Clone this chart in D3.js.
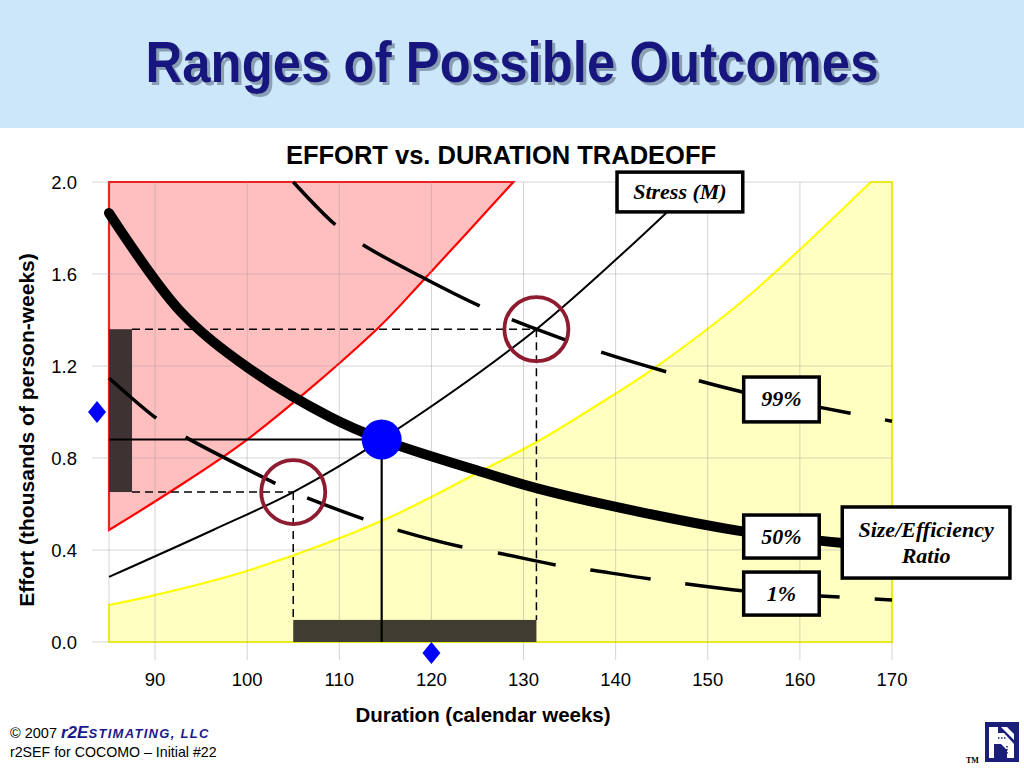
<!DOCTYPE html>
<html><head><meta charset="utf-8">
<script src="https://cdn.jsdelivr.net/npm/d3@7"></script>
<style>
html,body{margin:0;padding:0;background:#fff;}
svg{display:block;}
</style></head>
<body>
<script>
// ---------- data ----------
const xTicks = [90,100,110,120,130,140,150,160,170];
const yTicks = [0,0.4,0.8,1.2,1.6,2.0];
const yTickLabels = ["0.0","0.4","0.8","1.2","1.6","2.0"];
const medianCurve = [[85,1.865],[92.7,1.44],[100,1.195],[109,0.978],[114.6,0.88],[125.6,0.738],[131.8,0.665],[142.7,0.565],[154,0.48],[164.7,0.43]];
const stressCurve = [[85,0.283],[96.3,0.487],[105,0.652],[114.6,0.88],[131.4,1.36],[145.6,1.87]];
const upperCurve = [[105,2.0],[109.6,1.813],[112.6,1.726],[118.8,1.59],[125.3,1.46],[131.4,1.36],[138.6,1.258],[145.6,1.174],[154,1.085],[162.2,1.02],[170,0.96]];
const lowerCurve = [[85,1.148],[90.1,0.974],[93.3,0.891],[103,0.691],[105,0.652],[112.6,0.535],[116.3,0.487],[123.4,0.413],[127.2,0.387],[133.5,0.335],[137.3,0.313],[143.8,0.274],[154,0.222],[162.2,0.2],[170,0.183]];
const redBoundary = [[85,0.487],[91.6,0.652],[100.1,0.883],[114.1,1.361],[119.35,1.583],[128.9,2.0]];
const yellowBoundary = [[85,0.161],[90,0.204],[100.3,0.313],[114.8,0.53],[125.6,0.748],[131.8,0.878],[138.4,1.04],[143.8,1.18],[153.9,1.487],[167.7,2.0]];
const lowPoint = [105, 0.652];
const highPoint = [131.4, 1.36];
const likelyPoint = [114.6, 0.88];
const durationBar = [105, 131.4, 0, 0.096];   // x0,x1,y0,y1
const effortBar = [85, 87.5, 0.652, 1.36];
const diamonds = [[83.7, 1.0],[120, -0.048]];
const boxes = [
  {lines:["Stress (M)"], x0:140.15, x1:153.8, y0:1.87, y1:2.043},
  {lines:["99%"], x0:153.9, x1:162.1, y0:0.957, y1:1.152},
  {lines:["50%"], x0:153.9, x1:162.1, y0:0.365, y1:0.552},
  {lines:["1%"], x0:153.9, x1:162.1, y0:0.117, y1:0.304},
  {lines:["Size/Efficiency","Ratio"], x0:164.6, x1:182.8, y0:0.278, y1:0.587}
];

// ---------- drawing ----------
const W = 1024, H = 768;
const svg = d3.select("body").append("svg").attr("width", W).attr("height", H);
const sans = "'Liberation Sans', Arial, sans-serif";
const serif = "'Liberation Serif', 'Times New Roman', serif";

const defs = svg.append("defs");
const filt = defs.append("filter").attr("id","shadow").attr("x","-5%").attr("y","-20%").attr("width","110%").attr("height","150%");
filt.append("feDropShadow").attr("dx",3).attr("dy",3).attr("stdDeviation",0.6)
  .attr("flood-color","#7f93a8").attr("flood-opacity",0.85);

// header
svg.append("rect").attr("x",0).attr("y",0).attr("width",W).attr("height",128).attr("fill","#cce6fa");
svg.append("text").attr("x",512).attr("y",82).attr("text-anchor","middle")
  .attr("font-family",sans).attr("font-weight","bold").attr("font-size",57)
  .attr("textLength",733).attr("lengthAdjust","spacingAndGlyphs")
  .attr("fill","#14147e").attr("filter","url(#shadow)").text("Ranges of Possible Outcomes");

const x = d3.scaleLinear().domain([85,170]).range([109,892]);
const y = d3.scaleLinear().domain([0,2]).range([642,182]);

// chart title
svg.append("text").attr("x",501).attr("y",164).attr("text-anchor","middle")
  .attr("font-family",sans).attr("font-weight","bold").attr("font-size",25.5)
  .attr("fill","#000").text("EFFORT vs. DURATION TRADEOFF");

const smoothGen = d3.line().x(d=>x(d[0])).y(d=>y(d[1])).curve(d3.curveCatmullRom.alpha(0.5));

// yellow region
svg.append("path")
  .attr("d", smoothGen(yellowBoundary) + `L${x(170)},${y(2)}L${x(170)},${y(0)}L${x(85)},${y(0)}Z`)
  .attr("fill","#ffffc2").attr("stroke","#ffff00").attr("stroke-width",2.2);

// red region
svg.append("path").attr("d", smoothGen(redBoundary) + `L${x(85)},${y(2)}Z`)
  .attr("fill","#ffbfbf").attr("stroke","#ff0000").attr("stroke-width",2.2);

// gridlines + ticks
const grid = svg.append("g").attr("stroke","#a0a0a0").attr("stroke-opacity",0.45).attr("stroke-width",1);
xTicks.forEach(t=>{
  grid.append("line").attr("x1",x(t)).attr("x2",x(t)).attr("y1",y(2)).attr("y2",y(0)+18);
});
grid.append("line").attr("x1",x(85)).attr("x2",x(85)).attr("y1",y(2)).attr("y2",y(0));
yTicks.forEach(t=>{
  grid.append("line").attr("x1",x(85)-17).attr("x2",x(170)).attr("y1",y(t)).attr("y2",y(t));
});

// axis labels
xTicks.forEach(t=>{
  svg.append("text").attr("x",x(t)).attr("y",y(0)+44).attr("text-anchor","middle")
    .attr("font-family",sans).attr("font-size",18.5).attr("fill","#000").text(t);
});
yTicks.forEach((t,i)=>{
  svg.append("text").attr("x",77).attr("y",y(t)+6.5).attr("text-anchor","end")
    .attr("font-family",sans).attr("font-size",18.5).attr("fill","#000").text(yTickLabels[i]);
});
svg.append("text").attr("x",483).attr("y",722).attr("text-anchor","middle")
  .attr("font-family",sans).attr("font-weight","bold").attr("font-size",20.5)
  .text("Duration (calendar weeks)");
svg.append("text").attr("transform","translate(34,430) rotate(-90)").attr("text-anchor","middle")
  .attr("font-family",sans).attr("font-weight","bold").attr("font-size",21)
  .text("Effort (thousands of person-weeks)");

// bars
svg.append("rect").attr("x",x(effortBar[0])).attr("width",x(effortBar[1])-x(effortBar[0]))
  .attr("y",y(effortBar[3])).attr("height",y(effortBar[2])-y(effortBar[3])).attr("fill","#3e3232");
svg.append("rect").attr("x",x(durationBar[0])).attr("width",x(durationBar[1])-x(durationBar[0]))
  .attr("y",y(durationBar[3])).attr("height",y(durationBar[2])-y(durationBar[3])).attr("fill","#3f3d31");

// dashed guides
const guides = svg.append("g").attr("stroke","#000").attr("stroke-width",1.5).attr("stroke-dasharray","8,5").attr("fill","none");
guides.append("line").attr("x1",x(effortBar[1])).attr("x2",x(highPoint[0])).attr("y1",y(highPoint[1])).attr("y2",y(highPoint[1]));
guides.append("line").attr("x1",x(highPoint[0])).attr("x2",x(highPoint[0])).attr("y1",y(highPoint[1])).attr("y2",y(durationBar[3]));
guides.append("line").attr("x1",x(effortBar[1])).attr("x2",x(lowPoint[0])).attr("y1",y(lowPoint[1])).attr("y2",y(lowPoint[1]));
guides.append("line").attr("x1",x(lowPoint[0])).attr("x2",x(lowPoint[0])).attr("y1",y(lowPoint[1])).attr("y2",y(durationBar[3]));

// solid guides to most likely point
svg.append("line").attr("x1",x(85)).attr("x2",x(likelyPoint[0])).attr("y1",y(likelyPoint[1])).attr("y2",y(likelyPoint[1]))
  .attr("stroke","#000").attr("stroke-width",2);
svg.append("line").attr("x1",x(likelyPoint[0])).attr("x2",x(likelyPoint[0])).attr("y1",y(likelyPoint[1])).attr("y2",y(0))
  .attr("stroke","#000").attr("stroke-width",2.2);

// curves
svg.append("path").attr("d",smoothGen(stressCurve)).attr("fill","none").attr("stroke","#000").attr("stroke-width",2);
svg.append("path").attr("d",smoothGen(upperCurve)).attr("fill","none").attr("stroke","#000").attr("stroke-width",3.5)
  .attr("stroke-dasharray","60,34,132,35,60,35,68,34,60,35,60,35,60,35,60,35");
svg.append("path").attr("d",smoothGen(lowerCurve)).attr("fill","none").attr("stroke","#000").attr("stroke-width",3.5)
  .attr("stroke-dasharray","62,35,101,35,60,36,67,36,59,35,61,35,60,35,60,35,60,35");
svg.append("path").attr("d",smoothGen(medianCurve)).attr("fill","none").attr("stroke","#000").attr("stroke-width",10).attr("stroke-linecap","round");

// circles
[lowPoint, highPoint].forEach(p=>{
  svg.append("circle").attr("cx",x(p[0])).attr("cy",y(p[1])).attr("r",32)
    .attr("fill","none").attr("stroke","#8e1b30").attr("stroke-width",3.8);
});
svg.append("circle").attr("cx",x(likelyPoint[0])).attr("cy",y(likelyPoint[1])).attr("r",20).attr("fill","#0000ff");

// diamonds
diamonds.forEach(d=>{
  const cx = x(d[0]), cy = y(d[1]);
  svg.append("path").attr("d",`M${cx},${cy-11}L${cx+9},${cy}L${cx},${cy+11}L${cx-9},${cy}Z`).attr("fill","#0000ff");
});

// annotation boxes
boxes.forEach(b=>{
  const bx = x(b.x0), bw = x(b.x1)-x(b.x0), by = y(b.y1), bh = y(b.y0)-y(b.y1);
  svg.append("rect").attr("x",bx).attr("y",by).attr("width",bw).attr("height",bh)
    .attr("fill","#fff").attr("stroke","#000").attr("stroke-width",3.5);
  const n = b.lines.length;
  b.lines.forEach((l,i)=>{
    svg.append("text").attr("x",bx+bw/2).attr("y",by+bh/2+7+(i-(n-1)/2)*26)
      .attr("text-anchor","middle").attr("font-family",serif).attr("font-weight","bold")
      .attr("font-style","italic").attr("font-size",22).text(l);
  });
});

// footer
const f1 = svg.append("text").attr("x",10).attr("y",738).attr("font-family",sans).attr("font-size",14.5).attr("fill","#000");
f1.append("tspan").text("© 2007 ");
f1.append("tspan").attr("fill","#1a1a8c").attr("font-weight","bold").attr("font-style","italic").attr("font-size",17).text("r2E");
f1.append("tspan").attr("fill","#1a1a8c").attr("font-weight","bold").attr("font-style","italic").attr("font-size",13).attr("letter-spacing",1.3).text("STIMATING, LLC");
svg.append("text").attr("x",10).attr("y",757).attr("font-family",sans).attr("font-size",14.2).attr("fill","#000")
  .text("r2SEF for COCOMO – Initial #22");

// logo
const lg = svg.append("g").attr("transform","translate(985,722)");
lg.append("rect").attr("width",34).attr("height",40).attr("fill","#1c1f7a");
lg.append("path").attr("d","M4,5 L13,5 L13,11 L19,11 L29,22 L29,36 L22,36 L22,28 L16,22 L9,22 L9,36 L4,36 Z").attr("fill","#fff");
lg.append("path").attr("d","M16,5 L22,5 L29,12 L29,18 Z").attr("fill","#fff");
lg.append("line").attr("x1",13).attr("y1",16).attr("x2",21).attr("y2",16).attr("stroke","#1c1f7a").attr("stroke-width",1.5).attr("stroke-dasharray","1.5,1.5");
lg.append("line").attr("x1",22).attr("y1",24).attr("x2",22).attr("y2",32).attr("stroke","#1c1f7a").attr("stroke-width",1.5).attr("stroke-dasharray","1.5,1.5");
svg.append("text").attr("x",966).attr("y",763).attr("font-family",serif).attr("font-weight","bold").attr("font-size",8).text("TM");
</script>
</body></html>
